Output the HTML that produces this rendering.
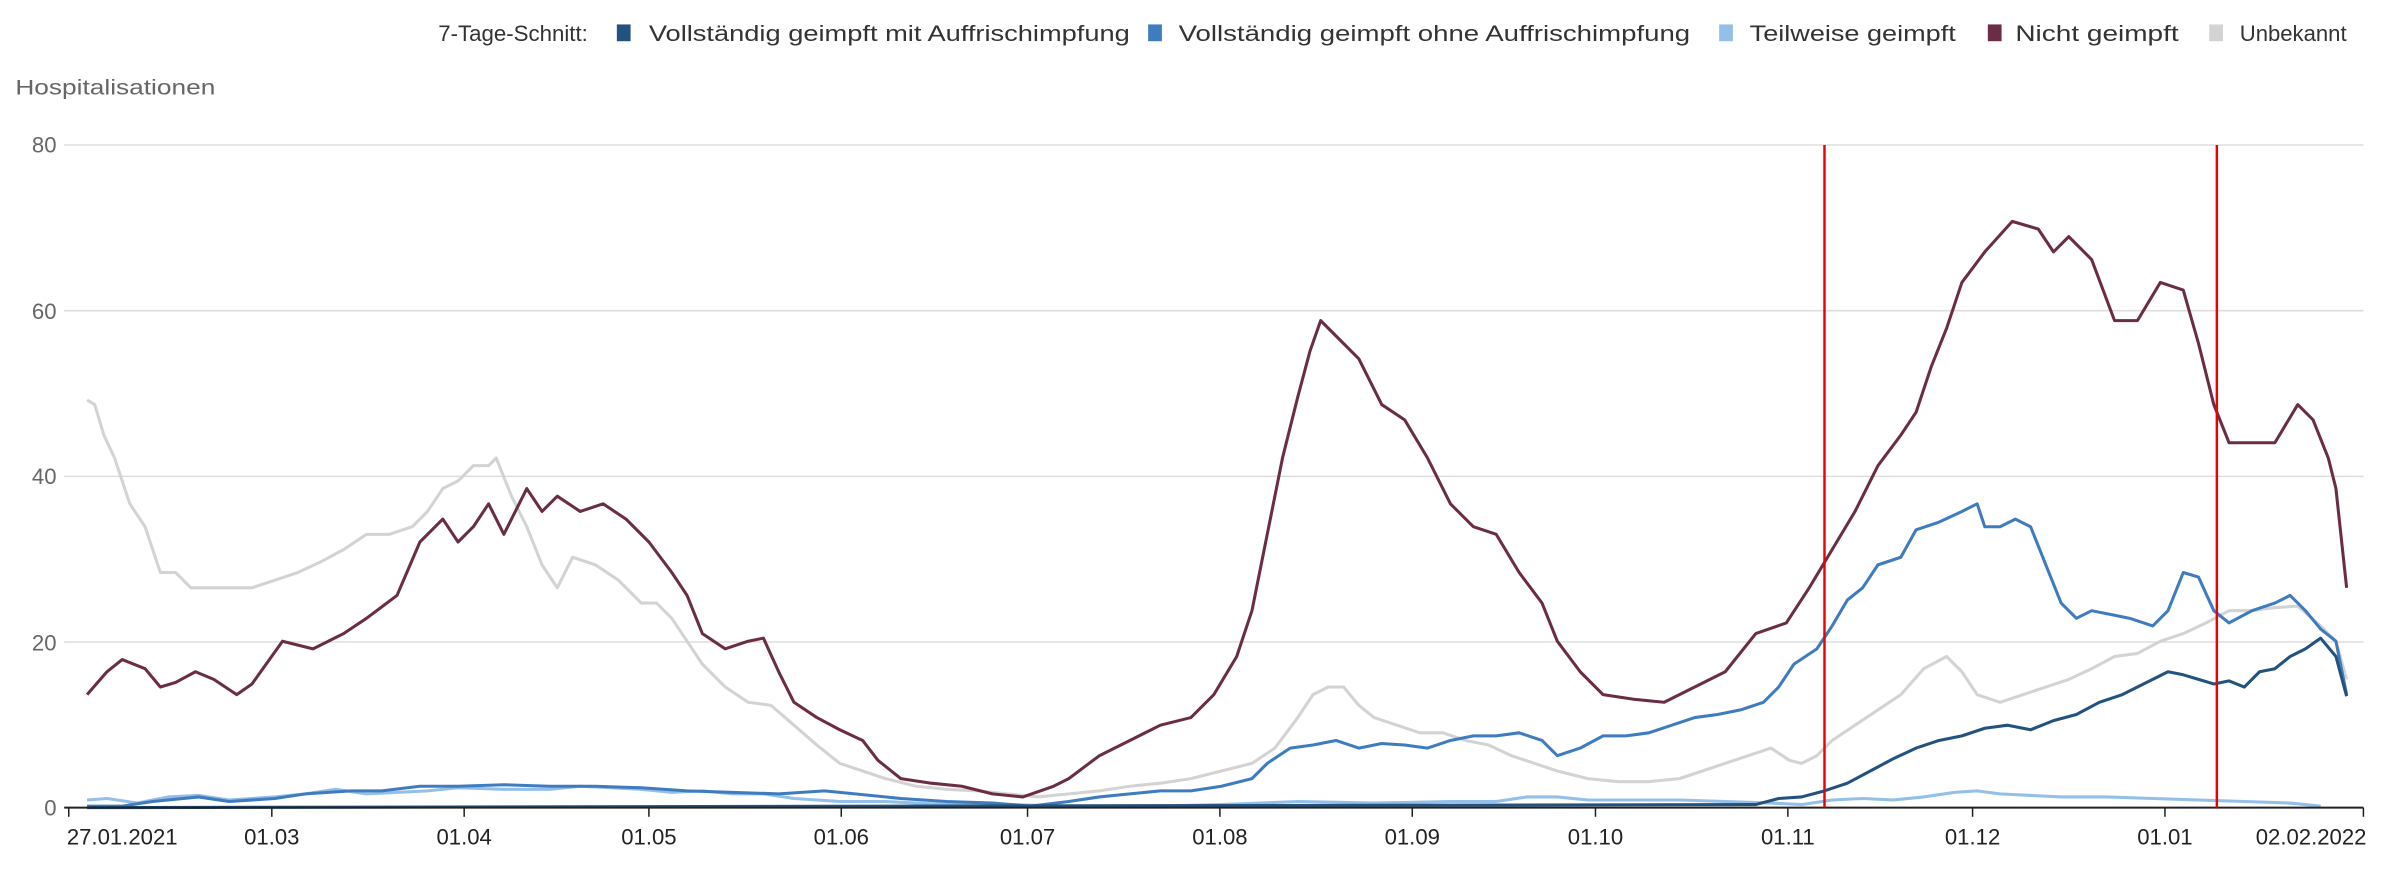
<!DOCTYPE html>
<html><head><meta charset="utf-8"><style>
html,body{margin:0;padding:0;background:#fff;}
svg{display:block;}
text{font-family:"Liberation Sans",sans-serif;}
</style></head><body>
<svg width="2394" height="880" viewBox="0 0 1568 576.4" xmlns="http://www.w3.org/2000/svg">
<g font-size="14.5" fill="#333">
<text x="287" y="27" textLength="98" lengthAdjust="spacingAndGlyphs">7-Tage-Schnitt:</text>
<rect x="404" y="16" width="9" height="11" fill="#24527f"/>
<text x="425" y="27" textLength="315" lengthAdjust="spacingAndGlyphs">Vollständig geimpft mit Auffrischimpfung</text>
<rect x="752" y="16" width="9" height="11" fill="#3f7cbf"/>
<text x="772" y="27" textLength="335" lengthAdjust="spacingAndGlyphs">Vollständig geimpft ohne Auffrischimpfung</text>
<rect x="1126" y="16" width="9" height="11" fill="#93bfe8"/>
<text x="1146" y="27" textLength="135" lengthAdjust="spacingAndGlyphs">Teilweise geimpft</text>
<rect x="1302" y="16" width="9" height="11" fill="#6b2d46"/>
<text x="1320" y="27" textLength="107" lengthAdjust="spacingAndGlyphs">Nicht geimpft</text>
<rect x="1447" y="16" width="9" height="11" fill="#d3d3d3"/>
<text x="1467" y="27" textLength="70" lengthAdjust="spacingAndGlyphs">Unbekannt</text>
</g>
<text x="10" y="62" font-size="14" fill="#666" textLength="131" lengthAdjust="spacingAndGlyphs">Hospitalisationen</text>
<g stroke="#ddd" stroke-width="1">
<line x1="42" y1="95" x2="1548" y2="95"/><line x1="42" y1="203.5" x2="1548" y2="203.5"/>
<line x1="42" y1="312" x2="1548" y2="312"/><line x1="42" y1="420.5" x2="1548" y2="420.5"/>
</g>
<g font-size="14.5" fill="#666" text-anchor="end">
<text x="37" y="100">80</text><text x="37" y="209">60</text><text x="37" y="317">40</text><text x="37" y="426">20</text><text x="37" y="534">0</text>
</g>
<g fill="none" stroke-width="2" stroke-linejoin="round">
<polyline stroke="#d3d3d3" points="57,262 62,265 68,285 75,300 85,330 95,345 105,375 115,375 125,385 140,385 155,385 165,385 180,380 195,375 210,368 225,360 240,350 255,350 270,345 280,335 290,320 300,315 310,305 320,305 325,300 335,325 345,345 355,370 365,385 375,365 390,370 405,380 420,395 430,395 440,405 450,420 460,435 475,450 490,460 505,462 520,475 535,488 550,500 565,505 580,510 600,515 620,517 640,518 660,520 680,522 700,520 720,518 740,515 760,513 780,510 800,505 820,500 835,490 850,470 860,455 870,450 880,450 890,462 900,470 915,475 930,480 945,480 960,485 975,488 990,495 1005,500 1020,505 1040,510 1060,512 1080,512 1100,510 1115,505 1130,500 1145,495 1160,490 1172,498 1180,500 1190,495 1200,485 1215,475 1230,465 1245,455 1260,438 1275,430 1285,440 1295,455 1310,460 1325,455 1340,450 1355,445 1370,438 1385,430 1400,428 1415,420 1430,415 1445,408 1460,400 1475,400 1490,398 1505,397 1520,410 1530,420 1537,445"/>
<polyline stroke="#93bfe8" points="57,524 70,523 90,526 110,522 130,521 150,524 180,522 200,520 220,517 240,520 260,519 280,518 300,516 330,517 360,517 380,515 400,516 420,517 440,519 460,518 480,520 500,520 520,523 550,525 580,525 620,527 660,527 700,528 760,528 800,527 850,525 900,526 950,525 980,525 1000,522 1020,522 1040,524 1060,524 1080,524 1100,524 1130,525 1160,526 1180,527 1200,524 1220,523 1240,524 1260,522 1280,519 1295,518 1310,520 1330,521 1350,522 1380,522 1410,523 1440,524 1470,525 1500,526 1520,528"/>
<polyline stroke="#3f7cbf" points="57,528 80,528 100,525 130,522 150,525 180,523 200,520 230,518 250,518 275,515 300,515 330,514 360,515 390,515 420,516 450,518 480,519 510,520 540,518 560,520 590,523 620,525 650,526 675,528 700,525 720,522 740,520 760,518 780,518 800,515 820,510 830,500 845,490 860,488 875,485 890,490 905,487 920,488 935,490 950,485 965,482 980,482 995,480 1010,485 1020,495 1035,490 1050,482 1065,482 1080,480 1095,475 1110,470 1125,468 1140,465 1155,460 1165,450 1175,435 1190,425 1200,410 1210,393 1220,385 1230,370 1245,365 1255,347 1270,342 1285,335 1295,330 1300,345 1310,345 1320,340 1330,345 1340,370 1350,395 1360,405 1370,400 1385,403 1395,405 1410,410 1420,400 1430,375 1440,378 1450,400 1460,408 1475,400 1490,395 1500,390 1510,400 1520,412 1530,420 1537,455"/>
<polyline stroke="#24527f" points="57,529 1150,527 1165,523 1180,522 1195,518 1210,513 1225,505 1240,497 1255,490 1270,485 1285,482 1300,477 1315,475 1330,478 1345,472 1360,468 1375,460 1390,455 1400,450 1410,445 1420,440 1430,442 1440,445 1450,448 1460,446 1470,450 1480,440 1490,438 1500,430 1510,425 1520,418 1530,430 1537,456"/>
<polyline stroke="#6b2d46" points="57,455 70,440 80,432 95,438 105,450 115,447 128,440 140,445 155,455 165,448 185,420 205,425 225,415 240,405 260,390 275,355 290,340 300,355 310,345 320,330 330,350 345,320 355,335 365,325 380,335 395,330 410,340 425,355 440,375 450,390 460,415 475,425 490,420 500,418 510,440 520,460 535,470 550,478 565,485 575,498 590,510 610,513 630,515 650,520 670,522 690,515 700,510 720,495 740,485 760,475 780,470 795,455 810,430 820,400 830,350 840,300 850,260 858,230 865,210 875,220 890,235 905,265 920,275 935,300 950,330 965,345 980,350 995,375 1010,395 1020,420 1035,440 1050,455 1070,458 1090,460 1110,450 1130,440 1150,415 1170,408 1185,385 1200,360 1215,335 1230,305 1245,285 1255,270 1265,240 1275,215 1285,185 1300,165 1318,145 1335,150 1345,165 1355,155 1370,170 1385,210 1400,210 1415,185 1430,190 1440,225 1450,265 1460,290 1475,290 1490,290 1505,265 1515,275 1525,300 1530,320 1537,385"/>
</g>
<line x1="42" y1="529" x2="1548" y2="529" stroke="#222" stroke-width="1.3"/>
<g stroke="#222" stroke-width="1">
<line x1="45" y1="529" x2="45" y2="535"/><line x1="178" y1="529" x2="178" y2="535"/><line x1="304" y1="529" x2="304" y2="535"/><line x1="425" y1="529" x2="425" y2="535"/><line x1="551" y1="529" x2="551" y2="535"/><line x1="673" y1="529" x2="673" y2="535"/><line x1="799" y1="529" x2="799" y2="535"/><line x1="925" y1="529" x2="925" y2="535"/><line x1="1045" y1="529" x2="1045" y2="535"/><line x1="1171" y1="529" x2="1171" y2="535"/><line x1="1292" y1="529" x2="1292" y2="535"/><line x1="1418" y1="529" x2="1418" y2="535"/><line x1="1548" y1="529" x2="1548" y2="535"/>
</g>
<g stroke="#e00" stroke-width="1.6"><line x1="1195" y1="95" x2="1195" y2="529"/><line x1="1452" y1="95" x2="1452" y2="529"/></g>
<g font-size="14.5" fill="#222" text-anchor="middle">
<text x="80" y="553" text-anchor="middle">27.01.2021</text>
<text x="178" y="553">01.03</text><text x="304" y="553">01.04</text><text x="425" y="553">01.05</text><text x="551" y="553">01.06</text><text x="673" y="553">01.07</text><text x="799" y="553">01.08</text><text x="925" y="553">01.09</text><text x="1045" y="553">01.10</text><text x="1171" y="553">01.11</text><text x="1292" y="553">01.12</text><text x="1418" y="553">01.01</text>
<text x="1550" y="553" text-anchor="end">02.02.2022</text>
</g>
</svg>
</body></html>
